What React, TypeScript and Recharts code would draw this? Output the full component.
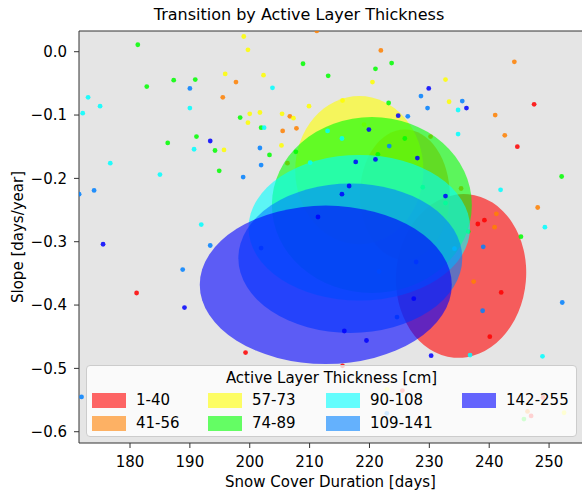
import React from 'react'
import { ComposedChart, Scatter, XAxis, YAxis, CartesianGrid, ReferenceLine } from 'recharts'

const CHART_W = 583
const CHART_H = 492
const MARGIN = { top: 31, right: 1, bottom: 0, left: 0 }
const Y_AXIS_W = 79
const X_AXIS_H = 49
const X_DOMAIN: [number, number] = [171.48, 255.5]
const Y_DOMAIN: [number, number] = [-0.6178, 0.0327]
const PLOT_W = CHART_W - MARGIN.left - MARGIN.right - Y_AXIS_W
const PLOT_H = CHART_H - MARGIN.top - MARGIN.bottom - X_AXIS_H
const PX_PER_DAY = PLOT_W / (X_DOMAIN[1] - X_DOMAIN[0])
const PX_PER_SLOPE = PLOT_H / (Y_DOMAIN[1] - Y_DOMAIN[0])

const xTicks = [180, 190, 200, 210, 220, 230, 240, 250]
const yTicks = [0, -0.1, -0.2, -0.3, -0.4, -0.5, -0.6]

const groups = ['1-40', '41-56', '57-73', '74-89', '90-108', '109-141', '142-255']
const colors = ['#ff0000', '#ff8000', '#ffff00', '#00ff00', '#00ffff', '#0080ff', '#0000ff']

// [snow cover duration, slope]
const pts1to40 = [
  [247.5, -0.083], [244.7, -0.15], [238.1, -0.272], [239.2, -0.266], [242.0, -0.38], [240.1, -0.45],
  [181.1, -0.381], [199.3, -0.475], [215.5, -0.496], [225.5, -0.535], [247.0, -0.575], [249.0, -0.546],
]
const pts41to56 = [
  [211.2, 0.033], [197.7, -0.048], [195.5, -0.072], [206.7, -0.102], [205.5, -0.125], [207.8, -0.121],
  [206.3, -0.176], [221.9, 0.002], [244.2, -0.016], [241.0, -0.1], [242.6, -0.132], [230.2, -0.134],
  [235.3, -0.216], [248.1, -0.246], [241.2, -0.256], [240.9, -0.277], [237.4, -0.363], [246.4, -0.568],
]
const pts57to73 = [
  [199.0, 0.024], [199.7, 0.003], [195.9, -0.035], [202.3, -0.037], [209.9, -0.086], [200.0, -0.098],
  [201.7, -0.096], [199.7, -0.112], [205.4, -0.098], [207.3, -0.105], [195.7, -0.155], [205.3, -0.148],
  [215.5, -0.077], [220.5, -0.048], [232.7, -0.044], [233.3, -0.079], [219.1, -0.115], [222.9, -0.533],
  [252.5, -0.57],
]
const pts74to89 = [
  [181.3, 0.011], [208.9, -0.019], [213.1, -0.038], [182.8, -0.055], [187.3, -0.045], [190.9, -0.044],
  [198.4, -0.104], [201.9, -0.12], [191.1, -0.134], [186.3, -0.144], [194.2, -0.156], [203.3, -0.163],
  [207.7, -0.158], [194.9, -0.188], [223.2, -0.081], [221.4, -0.162], [223.7, -0.018], [221.0, -0.027],
  [225.9, -0.137], [252.1, -0.197], [245.3, -0.292], [236.5, -0.284], [228.9, -0.214], [232.7, -0.239],
  [245.8, -0.58],
]
const pts90to108 = [
  [173.0, -0.072], [175.0, -0.086], [172.1, -0.097], [203.8, -0.057], [190.0, -0.089], [202.4, -0.12],
  [213.0, -0.125], [190.7, -0.154], [176.7, -0.176], [185.0, -0.194], [215.4, -0.137], [210.1, -0.175],
  [191.9, -0.273], [234.8, -0.092], [234.8, -0.13], [241.9, -0.218], [249.3, -0.277], [236.8, -0.479],
  [248.9, -0.481], [221.6, -0.347], [234.2, -0.311],
]
const pts109to141 = [
  [190.0, -0.058], [201.7, -0.152], [201.9, -0.179], [198.9, -0.198], [174.0, -0.219], [171.5, -0.225],
  [223.3, -0.149], [228.6, -0.07], [235.5, -0.078], [229.7, -0.089], [226.4, -0.102], [239.0, -0.308],
  [227.8, -0.332], [252.2, -0.396], [224.6, -0.419], [238.9, -0.409], [193.4, -0.306], [188.8, -0.344],
  [201.9, -0.31], [222.9, -0.571], [171.9, -0.545],
]
const pts142to255 = [
  [193.4, -0.141], [219.9, -0.123], [217.7, -0.174], [221.0, -0.17], [216.6, -0.212], [215.4, -0.225],
  [211.4, -0.261], [229.9, -0.058], [236.2, -0.089], [224.8, -0.101], [228.0, -0.168], [232.7, -0.228],
  [227.4, -0.39], [215.8, -0.441], [219.5, -0.456], [230.3, -0.48], [175.5, -0.304], [189.1, -0.404],
]
const groupPoints = [pts1to40, pts41to56, pts57to73, pts74to89, pts90to108, pts109to141, pts142to255]

// confidence ellipses: centre, half-widths in data units, tilt in degrees
const ellipseCx = [235.3, 225.9, 218.3, 220.4, 218.3, 216.8, 212.7]
const ellipseCy = [-0.354, -0.226, -0.187, -0.242, -0.278, -0.326, -0.368]
const ellipseRx = [10.86, 7.5, 10.7, 16.7, 18.5, 18.7, 21.05]
const ellipseRy = [0.1295, 0.103, 0.117, 0.139, 0.115, 0.118, 0.125]
const ellipseAngle = [5, 0, 0, 0, 0, 0, 0]

const FONT = '"DejaVu Sans", sans-serif'

const fmtY = (v: number) => (v < 0 ? '\u2212' : '') + Math.abs(v).toFixed(1)

const Dot = ({ cx, cy, fill }: any) => (
  <circle cx={cx} cy={cy} r={2.4} fill={fill} fillOpacity={0.85} />
)

const EllipseShape = ({ cx, cy, payload, fill }: any) => (
  <ellipse
    cx={cx}
    cy={cy}
    rx={payload.rx * PX_PER_DAY}
    ry={payload.ry * PX_PER_SLOPE}
    fill={fill}
    fillOpacity={0.6}
    transform={`rotate(${payload.angle} ${cx} ${cy})`}
  />
)

const legendCols = [[0, 1], [2, 3], [4, 5], [6]]

export default function App() {
  return (
    <div style={{ position: 'absolute', left: 0, top: 0, width: CHART_W, height: CHART_H, background: '#fff', fontFamily: FONT }}>
      <div style={{ position: 'absolute', left: 99, top: 5, width: 400, textAlign: 'center', fontSize: 16, lineHeight: '20px', color: '#000' }}>
        Transition by Active Layer Thickness
      </div>
      <ComposedChart width={CHART_W} height={CHART_H} margin={MARGIN}>
        <CartesianGrid fill="#e5e5e5" horizontal={false} vertical={false} />
        <XAxis
          type="number"
          dataKey="x"
          domain={X_DOMAIN}
          allowDataOverflow
          ticks={xTicks}
          interval={0}
          height={X_AXIS_H}
          tickSize={5}
          tickMargin={8}
          stroke="#333"
          tick={{ fill: '#000', fontSize: 15, fontFamily: FONT }}
          label={{
            content: ({ viewBox }: any) => (
              <text x={viewBox.x + viewBox.width / 2} y={viewBox.y + viewBox.height - 5} textAnchor="middle" fontSize={15} fontFamily={FONT} fill="#000">
                Snow Cover Duration [days]
              </text>
            ),
          }}
        />
        <YAxis
          type="number"
          dataKey="y"
          domain={Y_DOMAIN}
          allowDataOverflow
          ticks={yTicks}
          interval={0}
          width={Y_AXIS_W}
          tickSize={5}
          tickMargin={7}
          stroke="#333"
          tickFormatter={fmtY}
          tick={{ fill: '#000', fontSize: 15, fontFamily: FONT }}
          label={{
            content: ({ viewBox }: any) => {
              const lx = viewBox.x + 18
              const ly = viewBox.y + viewBox.height / 2
              return (
                <text x={lx} y={ly} textAnchor="middle" dominantBaseline="central" fontSize={15} fontFamily={FONT} fill="#000" transform={`rotate(-90 ${lx} ${ly})`}>
                  Slope [days/year]
                </text>
              )
            },
          }}
        />
        {groups.map((g, i) => [
          <Scatter
            key={`pts-${g}`}
            name={g}
            data={groupPoints[i].map(([x, y]) => ({ x, y }))}
            fill={colors[i]}
            shape={<Dot />}
            isAnimationActive={false}
          />,
          <Scatter
            key={`ell-${g}`}
            name={`${g} ellipse`}
            data={[{ x: ellipseCx[i], y: ellipseCy[i], rx: ellipseRx[i], ry: ellipseRy[i], angle: ellipseAngle[i] }]}
            fill={colors[i]}
            shape={<EllipseShape />}
            isAnimationActive={false}
          />,
        ])}
        <ReferenceLine y={Y_DOMAIN[1]} stroke="#333" strokeWidth={1} ifOverflow="extendDomain" />
      </ComposedChart>
      <div
        style={{
          position: 'absolute', left: 86, top: 365, width: 491, height: 72, boxSizing: 'border-box',
          background: 'rgba(255,255,255,0.8)', border: '1px solid #cccccc', borderRadius: 4,
          fontSize: 15, color: '#000',
        }}
      >
        <div style={{ position: 'absolute', left: 0, right: 0, top: 2, textAlign: 'center', lineHeight: '20px' }}>
          Active Layer Thickness [cm]
        </div>
        {legendCols.map((col, c) =>
          col.map((gi, r) => (
            <div key={groups[gi]} style={{ position: 'absolute', left: [5, 121, 239, 375][c], top: 25 + r * 23, height: 18, display: 'flex', alignItems: 'center' }}>
              <div style={{ width: 34, height: 15, background: colors[gi], opacity: 0.6 }} />
              <span style={{ marginLeft: 10, lineHeight: '18px' }}>{groups[gi]}</span>
            </div>
          ))
        )}
      </div>
    </div>
  )
}
